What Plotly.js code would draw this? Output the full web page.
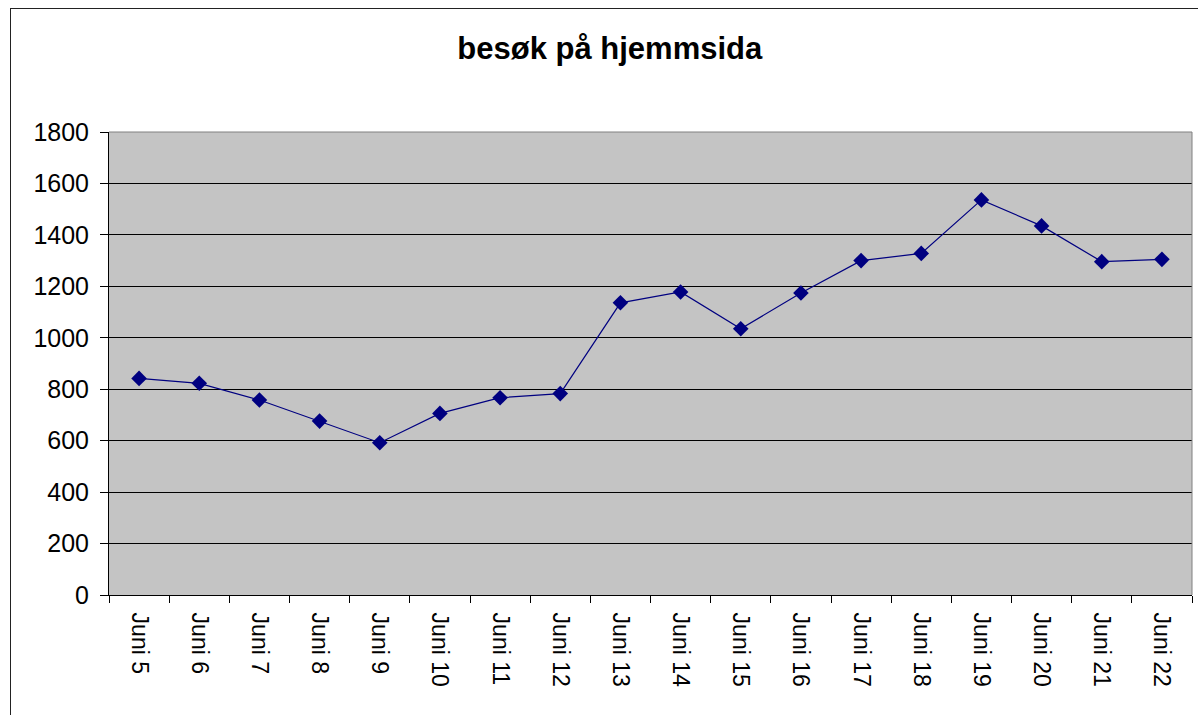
<!DOCTYPE html>
<html>
<head>
<meta charset="utf-8">
<script src="https://cdn.plot.ly/plotly-3.0.1.min.js"></script>
<style>
html,body{margin:0;padding:0;background:#fff;}
#wrap{position:relative;width:1198px;height:715px;overflow:hidden;}
#chart{position:absolute;left:0;top:0;width:1198px;height:715px;}
#frame{position:absolute;left:10px;top:8px;width:1300px;height:800px;border-left:1px solid #222;border-top:1px solid #222;pointer-events:none;}
</style>
</head>
<body>
<div id="wrap"><div id="chart"></div><div id="frame"></div></div>
<script>
const categories = ["Juni 5","Juni 6","Juni 7","Juni 8","Juni 9","Juni 10","Juni 11","Juni 12","Juni 13","Juni 14","Juni 15","Juni 16","Juni 17","Juni 18","Juni 19","Juni 20","Juni 21","Juni 22"];
const visits = [842, 823, 758, 676, 592, 706, 767, 783, 1136, 1178, 1035, 1174, 1300, 1328, 1536, 1435, 1296, 1305];
const yTicks = [0, 200, 400, 600, 800, 1000, 1200, 1400, 1600, 1800];

const trace = {
  x: categories,
  y: visits,
  type: 'scatter',
  mode: 'lines+markers',
  line: {color: '#000080', width: 1.2},
  marker: {symbol: 'diamond', size: 12, color: '#000080'},
  hoverinfo: 'x+y'
};

const layout = {
  width: 1198, height: 715,
  margin: {l: 109, r: 6, t: 132, b: 120, pad: 0},
  paper_bgcolor: 'rgba(0,0,0,0)',
  plot_bgcolor: '#c4c4c4',
  showlegend: false,
  font: {family: 'Liberation Sans, Arial, sans-serif', color: '#000'},
  title: {
    text: '<b>besøk på hjemmsida</b>',
    font: {size: 31, family: 'Liberation Sans, Arial, sans-serif', color: '#000'},
    xref: 'container', x: 0.509, xanchor: 'center',
    yref: 'container', y: 1 - 48/715, yanchor: 'middle'
  },
  xaxis: {
    type: 'category',
    tickangle: 90,
    tickfont: {size: 23},
    ticks: 'outside', ticklen: 7, tickcolor: '#000', tickwidth: 1,
    tickson: 'boundaries',
    ticklabelstandoff: 12,
    showline: true, linecolor: '#000', linewidth: 1,
    showgrid: false,
    range: [-0.5, categories.length - 0.5],
    fixedrange: true
  },
  yaxis: {
    range: [0, 1800],
    tickvals: yTicks,
    ticktext: yTicks.map(String),
    tickfont: {size: 25},
    ticks: 'outside', ticklen: 8, tickcolor: '#000', tickwidth: 1,
    ticklabelstandoff: 6,
    showline: true, linecolor: '#000', linewidth: 1,
    showgrid: true, gridcolor: '#000', gridwidth: 1,
    zeroline: false,
    fixedrange: true
  },
  shapes: [
    {type: 'line', xref: 'paper', yref: 'paper', x0: 1, x1: 1, y0: 0, y1: 1, line: {color: '#808080', width: 1}},
    {type: 'line', xref: 'paper', yref: 'paper', x0: 0, x1: 1, y0: 1, y1: 1, line: {color: '#808080', width: 1}}
  ]
};

Plotly.newPlot('chart', [trace], layout, {displayModeBar: false, staticPlot: true});
</script>
</body>
</html>
